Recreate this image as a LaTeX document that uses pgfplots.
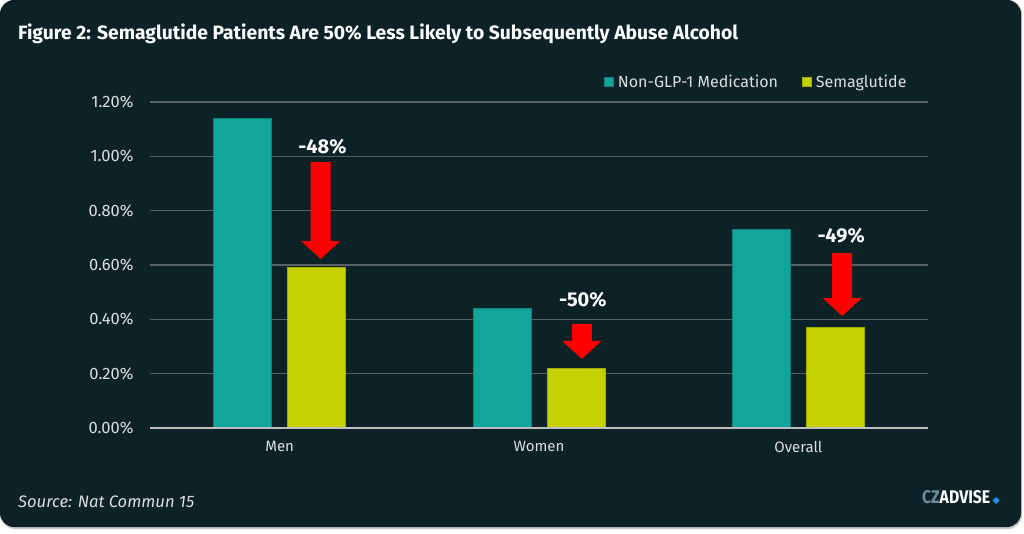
\documentclass[border=0pt]{standalone}
\usepackage{fontspec}
\setmainfont{Fira Sans}
\usepackage{graphicx}
\usepackage{pgfplots}
\pgfplotsset{compat=1.18}
\usetikzlibrary{calc}
\definecolor{bg}{RGB}{12,34,38}
\definecolor{tealc}{RGB}{18,166,154}
\definecolor{tealdk}{RGB}{14,130,122}
\definecolor{ylw}{RGB}{198,210,0}
\definecolor{ylwdk}{RGB}{160,170,0}
\definecolor{gridc}{RGB}{88,96,98}
\definecolor{zeroc}{RGB}{190,190,190}
\definecolor{txt}{RGB}{222,222,222}
\definecolor{czgray}{RGB}{110,140,155}
\definecolor{czblue}{RGB}{30,150,240}
\newcommand{\redarrow}[3]{%
  \fill[red] ($(axis cs:#1,#2)+(-10pt,0pt)$) -- ($(axis cs:#1,#2)+(10pt,0pt)$)
   -- ($(axis cs:#1,#3)+(10pt,18pt)$) -- ($(axis cs:#1,#3)+(19.5pt,18pt)$)
   -- (axis cs:#1,#3) -- ($(axis cs:#1,#3)+(-19.5pt,18pt)$)
   -- ($(axis cs:#1,#3)+(-10pt,18pt)$) -- cycle;}
\begin{document}
\begin{tikzpicture}[x=1pt,y=1pt]
\useasboundingbox (0,0) rectangle (1024,533);
\fill[white] (0,0) rectangle (1024,533);
\fill[black!22, rounded corners=14pt] (1,4) rectangle (1022,533);
\fill[bg, rounded corners=14pt] (0,6) rectangle (1021,533);
\begin{axis}[
  at={(150pt,105pt)}, anchor=south west,
  width=778pt, height=326pt, scale only axis,
  xmin=-0.5, xmax=2.5, ymin=0, ymax=1.2,
  ybar, bar width=58pt,
  xtick={0,1,2}, xticklabels={Men,Women,Overall},
  ytick={0,0.2,0.4,0.6,0.8,1.0,1.2},
  yticklabel={\pgfmathprintnumber[fixed,fixed zerofill,precision=2]{\tick}\%},
  /pgf/number format/assume math mode=true,
  major tick length=0pt,
  axis line style={draw=none},
  ymajorgrids, grid style={color=gridc, line width=1.5pt},
  tick label style={font=\fontsize{15}{18}\selectfont, text=txt},
  yticklabel style={xshift=-13pt, font=\fontsize{16.5}{18}\selectfont},
  xticklabel style={yshift=-10pt},
  legend image code/.code={\fill[#1] (0pt,-4.5pt) rectangle (9pt,4.5pt);},
  legend columns=2,
  legend style={at={(0.979,1.061)}, anchor=east, draw=none, fill=none,
    text=txt, font=\fontsize{16}{18}\selectfont,
    /tikz/every odd column/.append style={column sep=2pt},
    /tikz/every even column/.append style={column sep=22pt}},
  clip=false,
]
\addplot[fill=tealc, draw=tealdk, line width=0.8pt, bar shift=-37pt] coordinates {(0,1.14) (1,0.44) (2,0.73)};
\addplot[fill=ylw, draw=ylwdk, line width=0.8pt, bar shift=37pt] coordinates {(0,0.59) (1,0.22) (2,0.37)};
\legend{Non-GLP-1 Medication, Semaglutide}
\draw[zeroc, line width=1.5pt] (axis cs:-0.5,0) -- (axis cs:2.5,0);
\redarrow{0.158}{0.979}{0.622}
\redarrow{1.165}{0.383}{0.254}
\redarrow{2.169}{0.644}{0.412}
\node[anchor=base, text=white, font=\bfseries\fontsize{20}{22}\selectfont] at (axis cs:0.165,1.012) {-48\%};
\node[anchor=base, text=white, font=\bfseries\fontsize{20}{22}\selectfont] at (axis cs:1.169,0.449) {-50\%};
\node[anchor=base, text=white, font=\bfseries\fontsize{20}{22}\selectfont] at (axis cs:2.165,0.681) {-49\%};
\end{axis}
\node[anchor=base west, inner sep=0pt, text=white, font=\bfseries\fontsize{19.3}{21}\selectfont] at (18,493) {Figure 2: Semaglutide Patients Are 50\% Less Likely to Subsequently Abuse Alcohol};
\node[anchor=base west, inner sep=0pt, text=txt, font=\itshape\fontsize{16.6}{18}\selectfont] at (18,26) {Source: Nat Commun 15};
\node[anchor=base west, inner sep=0pt] at (922,30) {\resizebox{68pt}{13pt}{\bfseries\textcolor{czgray}{CZ}\textcolor{white}{ADVISE}}};
\fill[czblue] (996,29) -- (999.5,32.5) -- (996,36) -- (992.5,32.5) -- cycle;
\end{tikzpicture}
\end{document}
